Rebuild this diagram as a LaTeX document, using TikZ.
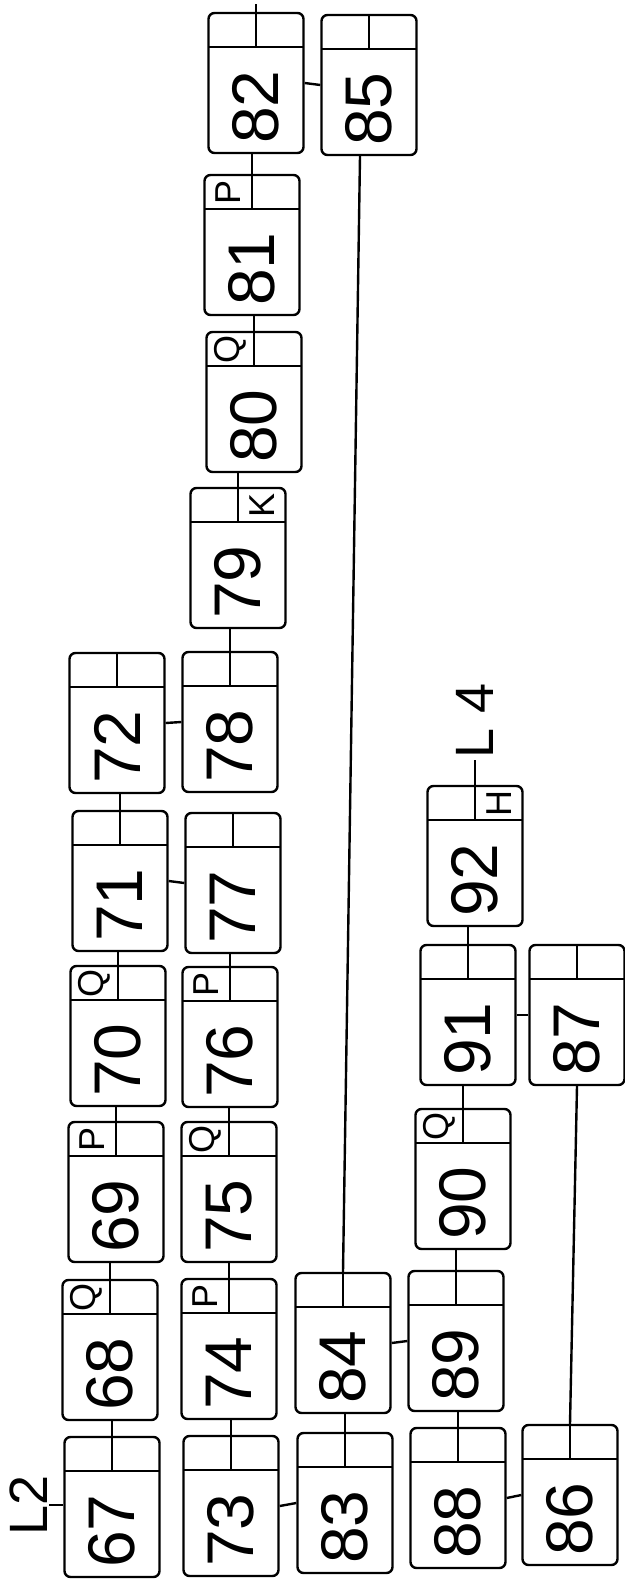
\documentclass[tikz,border=0pt]{standalone}
\usepackage{fontspec}
\setmainfont{Liberation Sans}

\begin{document}
\begin{tikzpicture}[x=1pt, y=-1pt, line width=2.4pt,
    cell/.style={draw, rounded corners=6pt, minimum width=95pt,
                 minimum height=140pt, inner sep=0pt,
                 path picture={
                   \draw ([yshift=-34pt]path picture bounding box.north west)
                      -- ([yshift=-34pt]path picture bounding box.north east);
                   \draw (path picture bounding box.north)
                      -- ([yshift=-34pt]path picture bounding box.north);
                 },
                 label={[num]center:#1}},
    num/.style={yshift=-24pt, rotate=90, inner sep=0pt,
                font=\fontsize{66}{66}\selectfont},
    tag/.style={rotate=90, inner sep=0pt, font=\fontsize{36}{36}\selectfont},
    tagl/.style={label={[xshift=-24pt, yshift=53pt, tag]center:#1}},
    tagr/.style={label={[xshift=24pt, yshift=53pt, tag]center:#1}},
    lname/.style={rotate=90, inner sep=0pt, font=\fontsize{54}{54}\selectfont},
]
\useasboundingbox (0,0) rectangle (624,1579);

% ─── First column: L2 list ─────────────────────────────────────
\node[cell={67}]       (n67) at (112,1507) {};
\node[cell={68}, tagl=Q] (n68) at (110,1350) {};
\node[cell={69}, tagl=P] (n69) at (116,1192) {};
\node[cell={70}, tagl=Q] (n70) at (118,1036) {};
\node[cell={71}]       (n71) at (120,881) {};
\node[cell={72}]       (n72) at (117,723) {};
\node[lname] (L2) at (29,1505) {L2};

% ─── Second column ─────────────────────────────────────────────
\node[cell={73}]       (n73) at (231,1506) {};
\node[cell={74}, tagl=P] (n74) at (229,1349) {};
\node[cell={75}, tagl=Q] (n75) at (229,1192) {};
\node[cell={76}, tagl=P] (n76) at (230,1037) {};
\node[cell={77}]       (n77) at (233,883) {};
\node[cell={78}]       (n78) at (230,722) {};
\node[cell={79}, tagr=K] (n79) at (238,558) {};
\node[cell={80}, tagl=Q] (n80) at (254,402) {};
\node[cell={81}, tagl=P] (n81) at (252,245) {};
\node[cell={82}]       (n82) at (256,83) {};
\node[cell={85}]       (n85) at (369,85) {};
\coordinate (s82) at (256,4);

% ─── Third column ──────────────────────────────────────────────
\node[cell={83}] (n83) at (345,1503) {};
\node[cell={84}] (n84) at (343,1343) {};

% ─── Fourth column: L4 list ────────────────────────────────────
\node[cell={88}]       (n88) at (458,1498) {};
\node[cell={89}]       (n89) at (456,1341) {};
\node[cell={90}, tagl=Q] (n90) at (463,1179) {};
\node[cell={91}]       (n91) at (468,1015) {};
\node[cell={92}, tagr=H] (n92) at (475,856) {};
\node[lname] (L4) at (475,721) {L 4};

% ─── Fifth column ──────────────────────────────────────────────
\node[cell={86}] (n86) at (570,1495) {};
\node[cell={87}] (n87) at (577,1015) {};

% ─── Vertical pointers (up from the header split) ──────────────
\draw (n67.north) -- (n67.north |- n68.south);
\draw (n68.north) -- (n68.north |- n69.south);
\draw (n69.north) -- (n69.north |- n70.south);
\draw (n70.north) -- (n70.north |- n71.south);
\draw (n71.north) -- (n71.north |- n72.south);

\draw (n73.north) -- (n73.north |- n74.south);
\draw (n74.north) -- (n74.north |- n75.south);
\draw (n75.north) -- (n75.north |- n76.south);
\draw (n76.north) -- (n76.north |- n77.south);
\draw (n78.north) -- (n78.north |- n79.south);
\draw (n79.north) -- (n79.north |- n80.south);
\draw (n80.north) -- (n80.north |- n81.south);
\draw (n81.north) -- (n81.north |- n82.south);
\draw (n82.north) -- (s82);

\draw (n83.north) -- (n83.north |- n84.south);
\draw (n88.north) -- (n88.north |- n89.south);
\draw (n89.north) -- (n89.north |- n90.south);
\draw (n90.north) -- (n90.north |- n91.south);
\draw (n91.north) -- (n91.north |- n92.south);
\draw (n92.north) -- (L4.west);

% long ones
\draw ([xshift=-9pt]n85.south) -- (n84.north);
\draw (n86.north) -- (n87.south);

% ─── Horizontal pointers ───────────────────────────────────────
\draw (L2.south) -- (L2.south -| n67.west);
\draw (n71.east) -- (n77.west);
\draw (n72.east) -- (n78.west);
\draw (n82.east) -- (n85.west);
\draw (n73.east) -- (n83.west);
\draw (n84.east) -- (n89.west);
\draw (n88.east) -- (n86.west);
\draw (n91.east) -- (n87.west);

\end{tikzpicture}
\end{document}
